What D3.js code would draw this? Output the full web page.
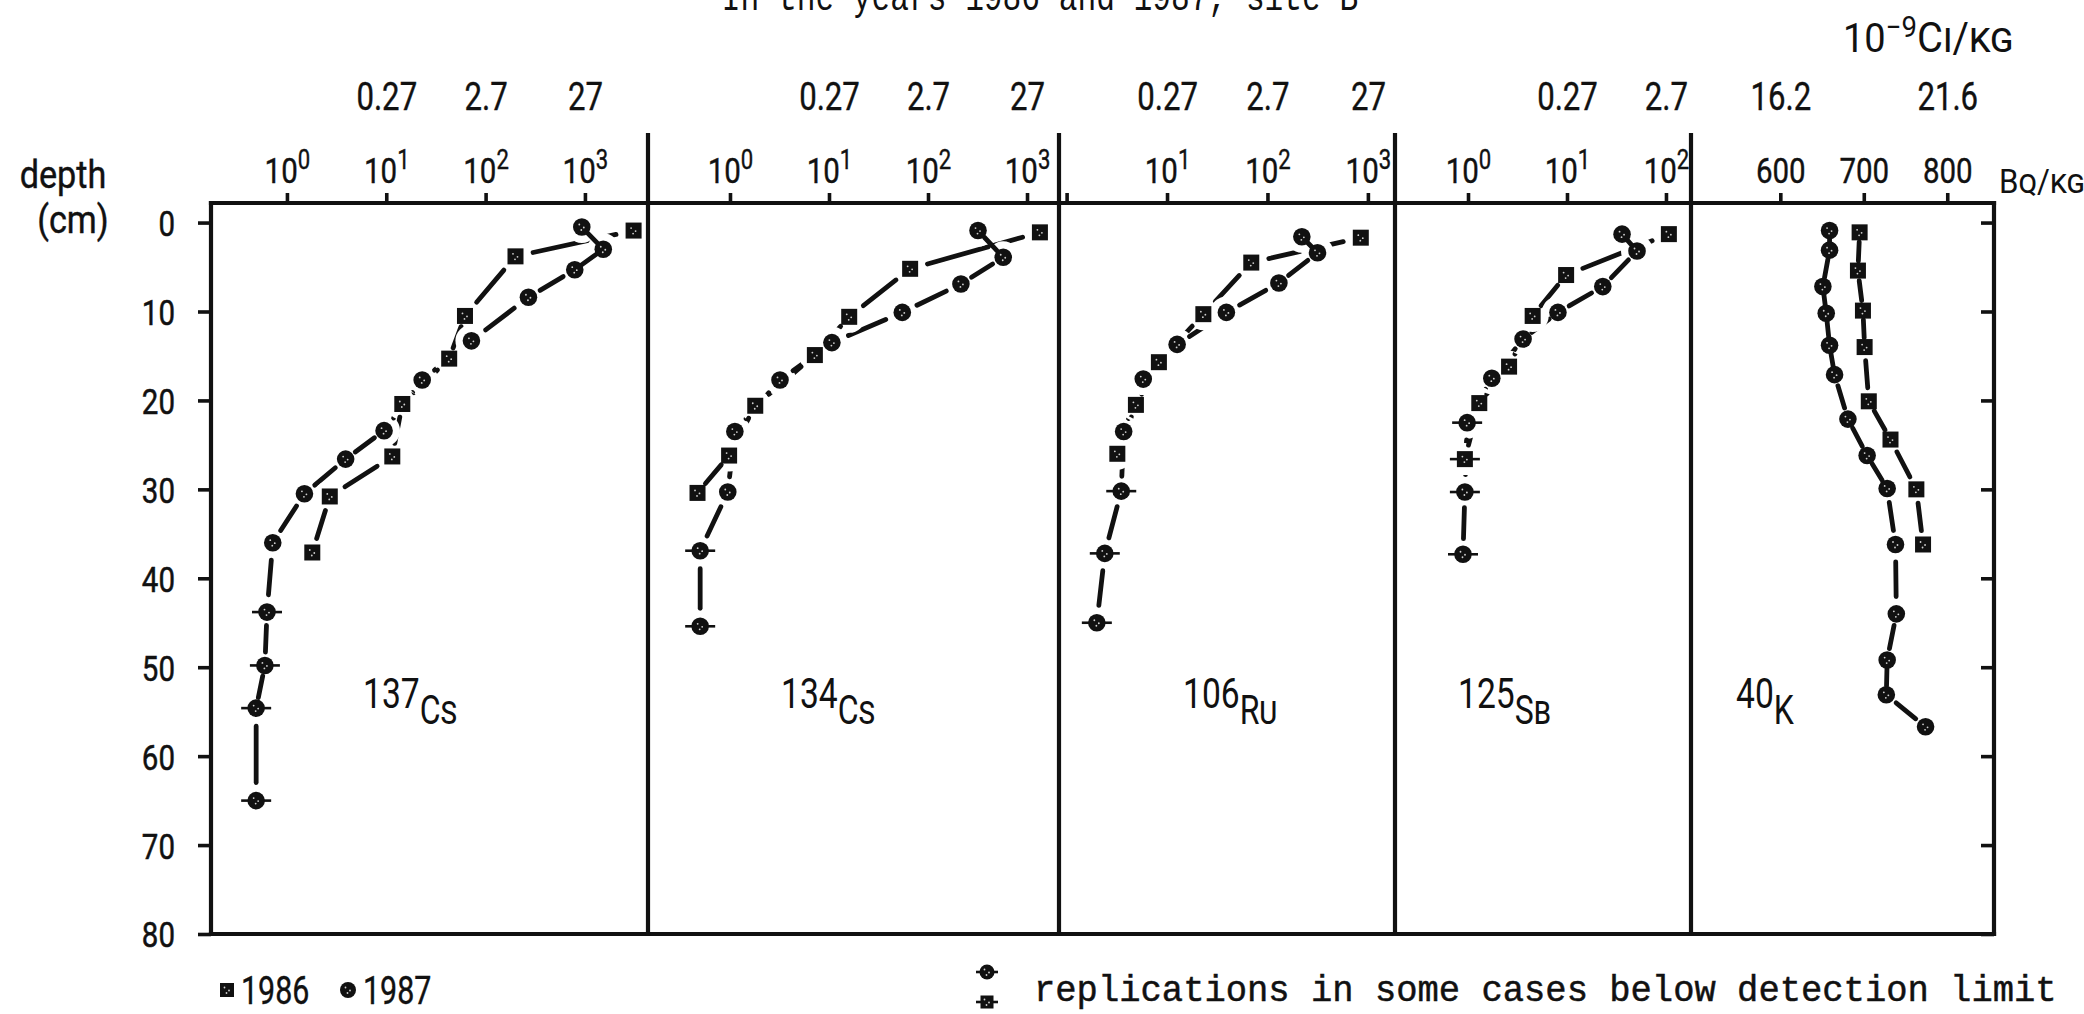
<!DOCTYPE html>
<html>
<head>
<meta charset="utf-8">
<script src="https://cdn.jsdelivr.net/npm/d3@7"></script>
<style>
  html, body { margin: 0; padding: 0; background: #fff; }
  svg { display: block; }
</style>
</head>
<body>
<svg id="chart" width="2084" height="1014"></svg>
<script>
// ---- Soil depth profiles, activity in Bq/kg (1986 = squares, 1987 = circles) ----
const cs137Depth1986 = [0.9, 3.8, 10.5, 15.3, 20.4, 26.3, 30.8, 37.1];
const cs137Value1986 = [3090, 200, 62, 43, 14.5, 11.5, 2.7, 1.8];
const cs137Depth1987 = [0.5, 3.0, 5.3, 8.4, 13.3, 17.7, 23.4, 26.6, 30.5, 36.0, 43.8, 49.8, 54.6, 65.0];
const cs137Value1987 = [930, 1530, 790, 270, 72, 23, 9.5, 3.9, 1.5, 0.72, 0.63, 0.6, 0.49, 0.49];
const cs137Limit1987 = [43.8, 49.8, 54.6, 65.0];

const cs134Depth1986 = [1.1, 5.2, 10.6, 14.9, 20.6, 26.2, 30.4];
const cs134Value1986 = [1350, 66, 16, 7.2, 1.8, 0.98, 0.47];
const cs134Depth1987 = [0.9, 3.9, 6.9, 10.1, 13.5, 17.7, 23.5, 30.3, 36.9, 45.4];
const cs134Value1987 = [320, 575, 215, 55, 10.7, 3.2, 1.12, 0.95, 0.5, 0.5];
const cs134Limit1987 = [36.9, 45.4];

const ru106Depth1986 = [1.7, 4.5, 10.3, 15.7, 20.5, 26.0];
const ru106Value1986 = [850, 69, 23, 8.3, 4.9, 3.2];
const ru106Depth1987 = [1.6, 3.4, 6.8, 10.1, 13.7, 17.6, 23.5, 30.2, 37.2, 45.0];
const ru106Value1987 = [220, 315, 130, 39, 12.6, 5.8, 3.7, 3.5, 2.4, 2.0];
const ru106Limit1987 = [30.2, 37.2, 45.0];

const sb125Depth1986 = [1.3, 5.9, 10.5, 16.2, 20.3, 26.6];
const sb125Value1986 = [107, 9.8, 4.5, 2.6, 1.3, 0.93];
const sb125Limit1986 = [26.6];
const sb125Depth1987 = [1.3, 3.2, 7.2, 10.1, 13.1, 17.5, 22.5, 30.3, 37.3];
const sb125Value1987 = [36, 51, 23, 8.1, 3.6, 1.74, 0.98, 0.93, 0.89];
const sb125Limit1987 = [22.5, 30.3, 37.3];

const k40Depth1986 = [1.1, 5.4, 9.9, 14.0, 20.1, 24.4, 30.0, 36.2];
const k40Value1986 = [695, 693, 699, 701, 706, 732, 763, 771];
const k40Depth1987 = [0.9, 3.1, 7.2, 10.2, 13.8, 17.1, 22.1, 26.2, 29.9, 36.2, 44.0, 49.2, 53.1, 56.7];
const k40Value1987 = [659, 659, 651, 655, 659, 665, 681, 704, 728, 738, 739, 728, 727, 774];

// ---- Axis ticks and labels ----
const depthTicks = [0, 10, 20, 30, 40, 50, 60, 70, 80];
const logTicks = [1, 10, 100, 1000];
const ciLogTicks = [10, 100, 1000];
const ciLogLabels = ["0.27", "2.7", "27"];          // 10^-9 Ci/kg equivalents
const kTicks = [600, 700, 800];
const ciKTicks = [600, 800];
const ciKLabels = ["16.2", "21.6"];
const legendYears = ["1986", "1987"];
const titleText = "In the years 1986 and 1987, site B";
const noteText = "replications in some cases below detection limit";

// ---- Layout ----
const W = 2084, H = 1014;
const INK = "#111";
const NUM = "Roboto, 'DejaVu Sans', sans-serif";
const MONO = "'Liberation Mono', 'DejaVu Sans Mono', monospace";
const SX = 0.82;

const svg = d3.select("#chart");
svg.append("rect").attr("width", W).attr("height", H).attr("fill", "#fff");
const defs = svg.append("defs");

const y = d3.scaleLinear().domain([-2.2, 80]).range([203, 934]);
const yTop = y.range()[0], yBot = y.range()[1];

const panels = [
  { mass: "137", sym: "Cs", x0: 211, x1: 648, scale: d3.scaleLog().domain([0.172, 4315]),
    ticks: logTicks, hideTick: [], ciTicks: ciLogTicks, ciLabels: ciLogLabels,
    d86: cs137Depth1986, v86: cs137Value1986, l86: [],
    d87: cs137Depth1987, v87: cs137Value1987, l87: cs137Limit1987, labelX: 363 },
  { mass: "134", sym: "Cs", x0: 648, x1: 1059, scale: d3.scaleLog().domain([0.1486, 2104]),
    ticks: logTicks, hideTick: [], ciTicks: ciLogTicks, ciLabels: ciLogLabels,
    d86: cs134Depth1986, v86: cs134Value1986, l86: [],
    d87: cs134Depth1987, v87: cs134Value1987, l87: cs134Limit1987, labelX: 781 },
  { mass: "106", sym: "Ru", x0: 1059, x1: 1395, scale: d3.scaleLog().domain([0.84, 1862]),
    ticks: logTicks, hideTick: [1], ciTicks: ciLogTicks, ciLabels: ciLogLabels,
    d86: ru106Depth1986, v86: ru106Value1986, l86: [],
    d87: ru106Depth1987, v87: ru106Value1987, l87: ru106Limit1987, labelX: 1183 },
  { mass: "125", sym: "Sb", x0: 1395, x1: 1691, scale: d3.scaleLog().domain([0.183, 179]),
    ticks: logTicks.slice(0, 3), hideTick: [], ciTicks: ciLogTicks.slice(0, 2), ciLabels: ciLogLabels.slice(0, 2),
    d86: sb125Depth1986, v86: sb125Value1986, l86: sb125Limit1986,
    d87: sb125Depth1987, v87: sb125Value1987, l87: sb125Limit1987, labelX: 1458 },
  { mass: "40", sym: "K", x0: 1691, x1: 1994, scale: d3.scaleLinear().domain([493, 856]),
    ticks: kTicks, hideTick: [], ciTicks: ciKTicks, ciLabels: ciKLabels, linear: true,
    d86: k40Depth1986, v86: k40Value1986, l86: [],
    d87: k40Depth1987, v87: k40Value1987, l87: [], labelX: 1736 }
];
panels.forEach(p => p.scale.range([p.x0, p.x1]));

// ---- Marker helpers ----
function speckle(g, cx, cy) {
  [[-2.5, -2.5], [2, 0.5], [-0.5, 3]].forEach(([dx, dy]) =>
    g.append("circle").attr("cx", cx + dx).attr("cy", cy + dy).attr("r", 0.9).attr("fill", "#fff").attr("opacity", 0.8));
}
function drawSquare(g, cx, cy, s) {
  g.append("rect").attr("x", cx - s / 2).attr("y", cy - s / 2).attr("width", s).attr("height", s).attr("fill", INK);
  speckle(g, cx, cy);
}
function drawCircle(g, cx, cy, r) {
  g.append("circle").attr("cx", cx).attr("cy", cy).attr("r", r).attr("fill", INK);
  speckle(g, cx, cy);
}
function drawBar(g, cx, cy, half) {
  g.append("line").attr("x1", cx - half).attr("x2", cx + half).attr("y1", cy).attr("y2", cy)
    .attr("stroke", INK).attr("stroke-width", 2.6);
}

// ---- Profile lines: one dash per segment, broken around the other year's markers ----
const lineLayer = svg.append("g");
const markLayer = svg.append("g");
const GAP = 18;

panels.forEach((p, i) => {
  const pts86 = p.d86.map((d, k) => ({ x: p.scale(p.v86[k]), y: y(d), lim: p.l86.includes(d) }));
  const pts87 = p.d87.map((d, k) => ({ x: p.scale(p.v87[k]), y: y(d), lim: p.l87.includes(d) }));

  [[pts86, pts87, "a"], [pts87, pts86, "b"]].forEach(([own, other, tag]) => {
    const id = `gap-${i}-${tag}`;
    const m = defs.append("mask").attr("id", id).attr("maskUnits", "userSpaceOnUse")
      .attr("x", 0).attr("y", 0).attr("width", W).attr("height", H);
    m.append("rect").attr("width", W).attr("height", H).attr("fill", "#fff");
    m.selectAll("circle").data(other).join("circle")
      .attr("cx", d => d.x).attr("cy", d => d.y).attr("r", 16).attr("fill", "#000");

    const segs = d3.pairs(own).map(([a, b]) => {
      const dx = b.x - a.x, dy = b.y - a.y, len = Math.hypot(dx, dy);
      const t = Math.min(GAP, 0.25 * len) / len;
      return { x1: a.x + dx * t, y1: a.y + dy * t, x2: b.x - dx * t, y2: b.y - dy * t };
    });
    lineLayer.append("g").attr("mask", `url(#${id})`)
      .selectAll("line").data(segs).join("line")
      .attr("x1", d => d.x1).attr("y1", d => d.y1).attr("x2", d => d.x2).attr("y2", d => d.y2)
      .attr("stroke", INK).attr("stroke-width", 4.8).attr("stroke-linecap", "round");
  });

  pts86.forEach(d => { if (d.lim) drawBar(markLayer, d.x, d.y, 15); drawSquare(markLayer, d.x, d.y, 16); });
  pts87.forEach(d => { if (d.lim) drawBar(markLayer, d.x, d.y, 15); drawCircle(markLayer, d.x, d.y, 8.8); });
});

// ---- Frame and axes ----
const frame = svg.append("g").attr("stroke", INK).attr("stroke-width", 4.2).attr("stroke-linecap", "square");
frame.append("line").attr("x1", panels[0].x0).attr("x2", panels[4].x1).attr("y1", yTop).attr("y2", yTop);
frame.append("line").attr("x1", panels[0].x0).attr("x2", panels[4].x1).attr("y1", yBot).attr("y2", yBot);
frame.append("line").attr("x1", panels[0].x0).attr("x2", panels[0].x0).attr("y1", yTop).attr("y2", yBot);
frame.append("line").attr("x1", panels[4].x1).attr("x2", panels[4].x1).attr("y1", yTop).attr("y2", yBot);
panels.slice(1).forEach(p =>
  frame.append("line").attr("x1", p.x0).attr("x2", p.x0).attr("y1", 135).attr("y2", yBot));

function tidyAxis(g, width) {
  g.select(".domain").remove();
  g.selectAll(".tick line").attr("stroke", INK).attr("stroke-width", width);
  g.selectAll(".tick text").attr("fill", INK);
}

// depth axis (left) with labels
const yAxisG = svg.append("g").attr("transform", `translate(${panels[0].x0},0)`)
  .call(d3.axisLeft(y).tickValues(depthTicks).tickSize(13).tickFormat(d3.format("d")));
tidyAxis(yAxisG, 3.6);
yAxisG.selectAll(".tick text")
  .attr("font-family", NUM).attr("font-size", 36)
  .attr("stroke", INK).attr("stroke-width", 0.5)
  .attr("x", -36 / SX).attr("dy", "0.36em")
  .attr("transform", `scale(${SX},1)`);

// inner ticks on the right border
const yAxisR = svg.append("g").attr("transform", `translate(${panels[4].x1},0)`)
  .call(d3.axisLeft(y).tickValues(depthTicks).tickSize(13).tickFormat(""));
tidyAxis(yAxisR, 3.6);

// activity axes along the top of every panel
panels.forEach(p => {
  const ax = svg.append("g").attr("transform", `translate(0,${yTop})`)
    .call(d3.axisTop(p.scale).tickValues(p.ticks).tickSize(10).tickPadding(10)
      .tickFormat(d => p.hideTick.includes(d) ? "" : String(d)));
  tidyAxis(ax, 3.6);
  ax.selectAll(".tick text").each(function (d) {
    const t = d3.select(this).text("")
      .attr("font-family", NUM).attr("font-size", 36)
      .attr("stroke", INK).attr("stroke-width", 0.4)
      .attr("transform", `scale(${SX},1)`);
    if (p.hideTick.includes(d)) return;
    if (p.linear) { t.text(String(d)); return; }
    t.append("tspan").text("10");
    t.append("tspan").attr("font-size", 27).attr("dy", -14).text(String(Math.round(Math.log10(d))));
  });

  // 10^-9 Ci/kg equivalents above
  const ci = svg.append("g").attr("transform", `translate(0,${yTop})`)
    .call(d3.axisTop(p.scale).tickValues(p.ciTicks).tickSize(0).tickPadding(93)
      .tickFormat((d, k) => p.ciLabels[k]));
  ci.select(".domain").remove();
  ci.selectAll(".tick line").remove();
  ci.selectAll(".tick text").attr("fill", INK).attr("font-family", NUM).attr("font-size", 38)
    .attr("stroke", INK).attr("stroke-width", 0.4).attr("transform", `scale(${SX},1)`);
});

// ---- Text ----
function label(x, yy, anchor, family, size, sx) {
  return svg.append("text").attr("transform", `translate(${x},${yy}) scale(${sx},1)`)
    .attr("text-anchor", anchor).attr("font-family", family).attr("font-size", size).attr("fill", INK);
}

label(1040, 10, "middle", MONO, 40, 0.78).text(titleText);

label(63, 188, "middle", NUM, 38, 0.9).attr("stroke", INK).attr("stroke-width", 0.4).text("depth");
label(73, 233, "middle", NUM, 38, 0.9).attr("stroke", INK).attr("stroke-width", 0.4).text("(cm)");

const ciUnit = label(1843, 52, "start", NUM, 40, 0.95);
ciUnit.append("tspan").text("10");
ciUnit.append("tspan").attr("font-size", 29).attr("dy", -15).text("\u2212" + "9");
ciUnit.append("tspan").attr("dy", 15).attr("font-size", 42).style("font-variant", "small-caps").text("Ci/kg");

label(1999, 193, "start", NUM, 34, 0.92).style("font-variant", "small-caps").text("Bq/kg");

panels.forEach(p => {
  const t = label(p.labelX, 708, "start", NUM, 42, 0.8);
  t.append("tspan").text(p.mass);
  t.append("tspan").attr("dy", 16).attr("font-size", 40).style("font-variant", "small-caps").text(p.sym);
});

// ---- Legends ----
const leg = svg.append("g");
drawSquare(leg, 227, 990, 14);
label(241, 1004, "start", NUM, 38, 0.8).attr("stroke", INK).attr("stroke-width", 0.4).text(legendYears[0]);
drawCircle(leg, 348, 990, 8);
label(363, 1004, "start", NUM, 38, 0.8).attr("stroke", INK).attr("stroke-width", 0.4).text(legendYears[1]);

drawBar(leg, 987, 972, 11);
drawCircle(leg, 987, 972, 7.5);
drawBar(leg, 987, 1002, 11);
drawSquare(leg, 987, 1002, 13);
label(1034, 1001, "start", MONO, 37, 0.96).attr("stroke", INK).attr("stroke-width", 0.5).text(noteText);
</script>
</body>
</html>
